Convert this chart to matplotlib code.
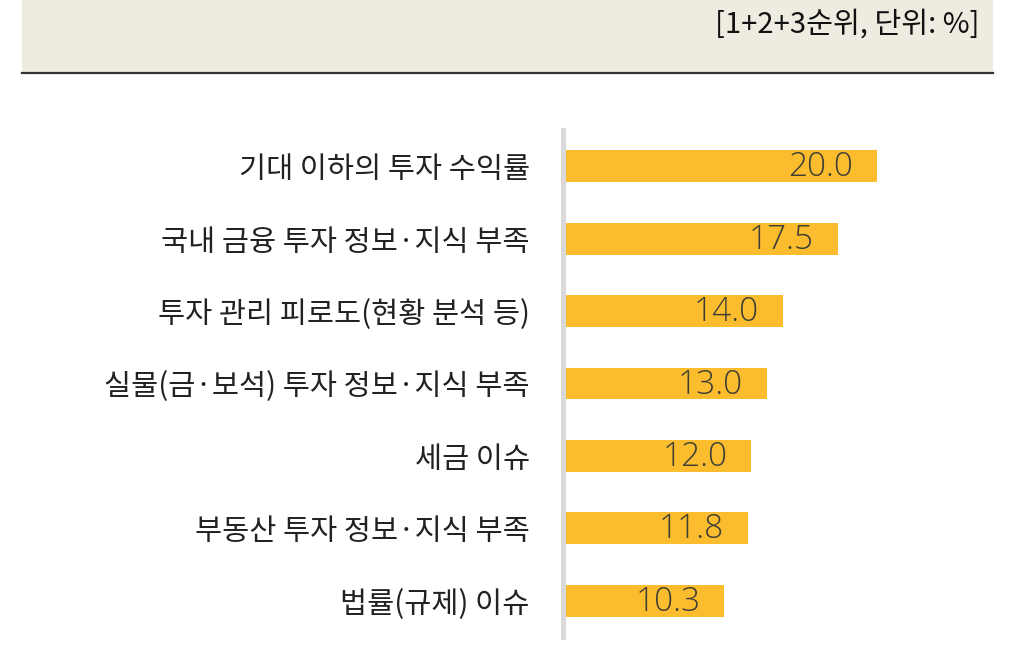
import matplotlib.pyplot as plt
from matplotlib.patches import Rectangle
from matplotlib.lines import Line2D

plt.rcParams['font.family'] = ['Noto Sans CJK KR', 'DejaVu Sans']

# survey data (1+2+3 rank, %)
categories = ['기대 이하의 투자 수익률', '국내 금융 투자 정보·지식 부족', '투자 관리 피로도(현황 분석 등)',
              '실물(금·보석) 투자 정보·지식 부족', '세금 이슈', '부동산 투자 정보·지식 부족', '법률(규제) 이슈']
values = [20.0, 17.5, 14.0, 13.0, 12.0, 11.8, 10.3]
note = '[1+2+3순위, 단위: %]'

W, H = 1020, 659
fig = plt.figure(figsize=(W / 100, H / 100), dpi=100)

# header band
fig.patches.append(Rectangle((22 / W, 1 - 72 / H), (993 - 22) / W, 72 / H,
                             transform=fig.transFigure, facecolor='#EEEBE0', edgecolor='none', zorder=0))
fig.lines.append(Line2D([22 / W, 993 / W], [1 - 73 / H, 1 - 73 / H], transform=fig.transFigure,
                        color='#333333', linewidth=1.6))
fig.text(980 / W, 1 - 25 / H, note, ha='right', va='center', fontsize=21, color='#111111')

# plot area: zero at x=562.5px, ~15.72 px per unit
left, right = 562.5, 1005
ax = fig.add_axes([left / W, 1 - 637 / H, (right - left) / W, (637 - 130) / H])
ax.barh(range(len(values)), values, height=0.44, color='#FBBD2E')
ax.set_xlim(0, (right - left) / 15.72)
ax.set_ylim(len(values) - 0.5, -0.5)

for s in ['top', 'right', 'bottom']:
    ax.spines[s].set_visible(False)
ax.spines['left'].set_color('#D9D9D9')
ax.spines['left'].set_linewidth(3.6)
ax.set_xticks([])
ax.set_yticks(range(len(categories)))
ax.set_yticklabels(categories, fontsize=21.2, color='#222222')
ax.tick_params(axis='y', length=0, pad=23.5)

for i, v in enumerate(values):
    ax.annotate(f'{v:.1f}', (v, i), xytext=(-17, -1), textcoords='offset points',
                ha='right', va='center', fontsize=24, color='#3F3F36', fontweight='light',
                family=['Open Sans', 'DejaVu Sans'])

fig.savefig('out.png', dpi=100)
